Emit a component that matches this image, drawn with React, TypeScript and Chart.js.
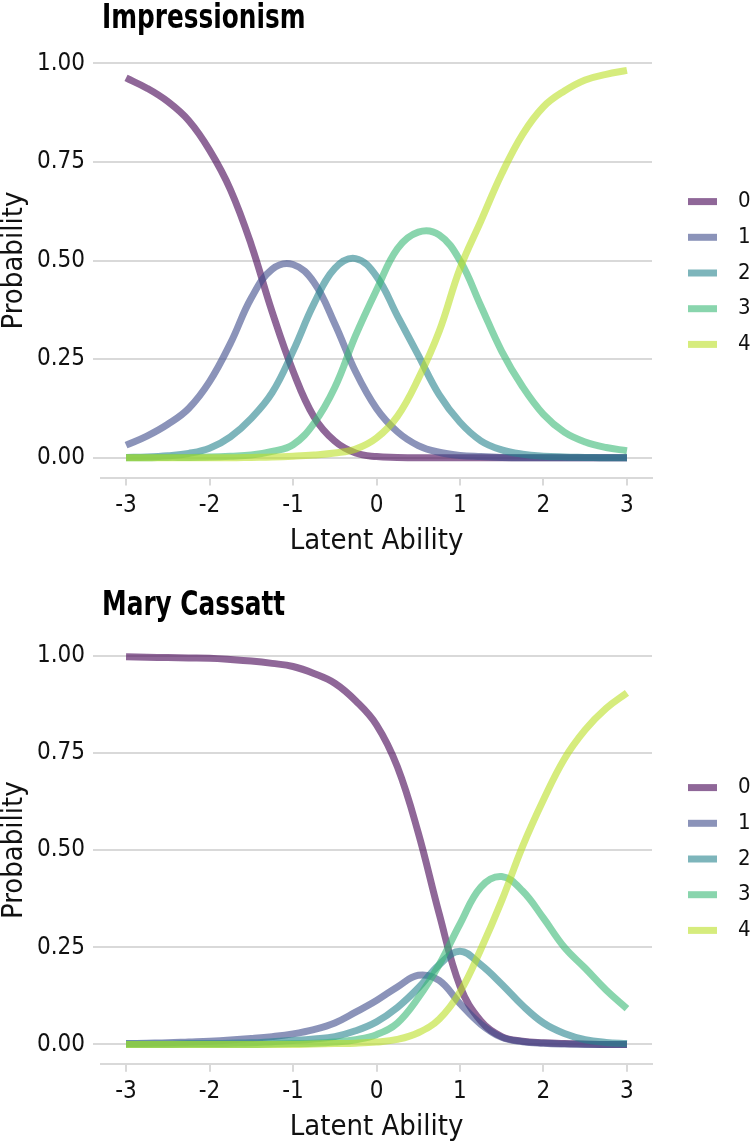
import React, { useEffect, useRef } from 'react';
import { Chart, registerables } from 'chart.js';

Chart.register(...registerables);

const THETA = [-3, -2.75, -2.5, -2.25, -2, -1.75, -1.5, -1.25, -1, -0.75, -0.5, -0.25, 0, 0.25, 0.5, 0.75, 1, 1.25, 1.5, 1.75, 2, 2.25, 2.5, 2.75, 3];
const CATEGORIES = ['0', '1', '2', '3', '4'];
const COLORS = ['rgba(68,1,84,0.6)', 'rgba(62,75,138,0.6)', 'rgba(38,132,141,0.6)', 'rgba(59,185,118,0.6)', 'rgba(187,223,39,0.6)'];
const X_TICKS = [-3, -2, -1, 0, 1, 2, 3];
const Y_TICKS = [0, 0.25, 0.5, 0.75, 1];

const IMP_0 = [0.963, 0.937, 0.903, 0.855, 0.78, 0.68, 0.54, 0.37, 0.22, 0.104, 0.042, 0.012, 0.003, 0.001, 0, 0, 0, 0, 0, 0, 0, 0, 0, 0, 0];
const IMP_1 = [0.032, 0.055, 0.085, 0.125, 0.193, 0.29, 0.405, 0.478, 0.49, 0.445, 0.34, 0.218, 0.125, 0.066, 0.031, 0.014, 0.006, 0.003, 0.001, 0, 0, 0, 0, 0, 0];
const IMP_2 = [0.001, 0.002, 0.005, 0.011, 0.024, 0.053, 0.1, 0.165, 0.27, 0.39, 0.48, 0.505, 0.46, 0.36, 0.26, 0.16, 0.09, 0.043, 0.02, 0.009, 0.004, 0.002, 0.001, 0, 0];
const IMP_3 = [0, 0, 0.001, 0.001, 0.002, 0.004, 0.007, 0.016, 0.033, 0.087, 0.178, 0.31, 0.425, 0.53, 0.572, 0.565, 0.5, 0.385, 0.27, 0.18, 0.11, 0.065, 0.04, 0.026, 0.018];
const IMP_4 = [0, 0, 0, 0, 0, 0, 0.001, 0.002, 0.004, 0.007, 0.012, 0.022, 0.05, 0.105, 0.2, 0.32, 0.48, 0.6, 0.72, 0.82, 0.89, 0.93, 0.958, 0.972, 0.982];

const CAS_0 = [0.998, 0.997, 0.996, 0.995, 0.994, 0.991, 0.987, 0.981, 0.973, 0.955, 0.93, 0.885, 0.823, 0.715, 0.545, 0.337, 0.15, 0.06, 0.02, 0.008, 0.004, 0.002, 0.001, 0, 0];
const CAS_1 = [0.002, 0.003, 0.004, 0.006, 0.008, 0.011, 0.015, 0.02, 0.027, 0.038, 0.055, 0.083, 0.113, 0.148, 0.178, 0.165, 0.105, 0.052, 0.018, 0.007, 0.003, 0.001, 0, 0, 0];
const CAS_2 = [0.001, 0.001, 0.001, 0.002, 0.002, 0.003, 0.004, 0.007, 0.01, 0.014, 0.02, 0.035, 0.058, 0.095, 0.145, 0.205, 0.24, 0.205, 0.155, 0.1, 0.055, 0.028, 0.012, 0.005, 0.002];
const CAS_3 = [0, 0, 0, 0, 0, 0, 0, 0.001, 0.002, 0.003, 0.006, 0.012, 0.025, 0.055, 0.12, 0.205, 0.31, 0.405, 0.432, 0.395, 0.325, 0.25, 0.196, 0.14, 0.092];
const CAS_4 = [0, 0, 0, 0, 0, 0, 0, 0, 0, 0.001, 0.002, 0.003, 0.006, 0.013, 0.03, 0.065, 0.135, 0.245, 0.37, 0.51, 0.63, 0.735, 0.81, 0.865, 0.905];

const FAMILY = "'DejaVu Sans Condensed', 'Liberation Sans Narrow', 'Roboto', sans-serif";
const GRID = '#d9d9d9';

const sideLegend = {
  id: 'sideLegend',
  afterDraw(chart: any, _args: any, opts: any) {
    const { ctx } = chart;
    const n = chart.data.datasets.length;
    ctx.save();
    chart.data.datasets.forEach((ds: any, i: number) => {
      const y = opts.centerY + (i - (n - 1) / 2) * opts.spacing;
      ctx.strokeStyle = ds.borderColor;
      ctx.lineWidth = 7;
      ctx.lineCap = 'butt';
      ctx.beginPath();
      ctx.moveTo(opts.keyX, y);
      ctx.lineTo(opts.keyX + opts.keyW, y);
      ctx.stroke();
      ctx.fillStyle = '#111';
      ctx.font = `22px ${FAMILY}`;
      ctx.textBaseline = 'middle';
      ctx.textAlign = 'left';
      ctx.fillText(ds.label, opts.textX, y);
    });
    ctx.restore();
  },
};

const panelTitle = {
  id: 'panelTitle',
  afterDraw(chart: any, _args: any, opts: any) {
    const { ctx, chartArea } = chart;
    ctx.save();
    ctx.translate(chartArea.left + 1, opts.baseline);
    ctx.scale(opts.squeeze, 1);
    ctx.fillStyle = '#000';
    ctx.font = `bold 34px ${FAMILY}`;
    ctx.textBaseline = 'alphabetic';
    ctx.textAlign = 'left';
    ctx.fillText(opts.text, 0, 0);
    ctx.restore();
  },
};

type PanelProps = {
  title: string;
  series: number[][];
  height: number;
  padTop: number;
  padBottom: number;
  titleBaseline: number;
  xScaleH: number;
  legendY: number;
};

function Panel(p: PanelProps) {
  const ref = useRef<HTMLCanvasElement>(null);
  useEffect(() => {
    if (!ref.current) return;
    const chart = new Chart(ref.current, {
      type: 'line',
      data: {
        datasets: p.series.map((s, i) => ({
          label: CATEGORIES[i],
          data: THETA.map((t, j) => ({ x: t, y: s[j] })),
          borderColor: COLORS[i],
          backgroundColor: COLORS[i],
          borderWidth: 7,
          pointRadius: 0,
          tension: 0.4,
          fill: false,
          order: CATEGORIES.length - 1 - i,
        })),
      },
      options: {
        responsive: false,
        animation: false,
        devicePixelRatio: 1,
        layout: { padding: { top: p.padTop, bottom: p.padBottom, left: 0, right: 98 } },
        plugins: {
          legend: { display: false },
          tooltip: { enabled: false },
          title: { display: false },
          panelTitle: { text: p.title, baseline: p.titleBaseline, squeeze: 0.81 },
          sideLegend: { centerY: p.legendY, spacing: 35.7, keyX: 688, keyW: 29, textX: 738 },
        } as any,
        scales: {
          x: {
            type: 'linear',
            min: -3.3,
            max: 3.3,
            afterBuildTicks: (s: any) => { s.ticks = X_TICKS.map((v) => ({ value: v })); },
            afterFit: (s: any) => { s.height = p.xScaleH; },
            grid: { drawOnChartArea: false, drawTicks: true, tickLength: 8, color: GRID, tickColor: GRID, lineWidth: 2, tickWidth: 2 },
            border: { display: true, color: GRID, width: 2 },
            ticks: { padding: 7, color: '#111', font: { family: FAMILY, size: 24, lineHeight: 1.1 }, maxRotation: 0, callback: (v: any) => String(v) },
            title: { display: true, text: 'Latent Ability', color: '#111', font: { family: FAMILY, size: 29, lineHeight: 1 }, padding: 0 },
          },
          y: {
            type: 'linear',
            min: -0.05,
            max: 1.05,
            afterBuildTicks: (s: any) => { s.ticks = Y_TICKS.map((v) => ({ value: v })); },
            afterFit: (s: any) => { s.width = 101; },
            grid: { drawOnChartArea: true, drawTicks: true, tickLength: 8, color: GRID, tickColor: GRID, lineWidth: 2, tickWidth: 2 },
            border: { display: false },
            ticks: { padding: 8, color: '#111', font: { family: FAMILY, size: 24 }, callback: (v: any) => Number(v).toFixed(2) },
            title: { display: true, text: 'Probability', color: '#111', font: { family: FAMILY, size: 29, lineHeight: 1 }, padding: 0 },
          },
        },
      } as any,
      plugins: [sideLegend, panelTitle],
    });
    return () => chart.destroy();
  }, []);
  return <canvas ref={ref} width={750} height={p.height} style={{ display: 'block', width: 750, height: p.height }} />;
}

export default function App() {
  return (
    <div style={{ position: 'absolute', left: 0, top: 0, width: 750, height: 1143, background: '#fff' }}>
      <Panel title="Impressionism" series={[IMP_0, IMP_1, IMP_2, IMP_3, IMP_4]} height={572}
        padTop={43.6} padBottom={16.5} titleBaseline={27.5} xScaleH={78} legendY={273} />
      <Panel title="Mary Cassatt" series={[CAS_0, CAS_1, CAS_2, CAS_3, CAS_4]} height={571}
        padTop={64.6} padBottom={1.2} titleBaseline={43} xScaleH={78} legendY={287} />
    </div>
  );
}
